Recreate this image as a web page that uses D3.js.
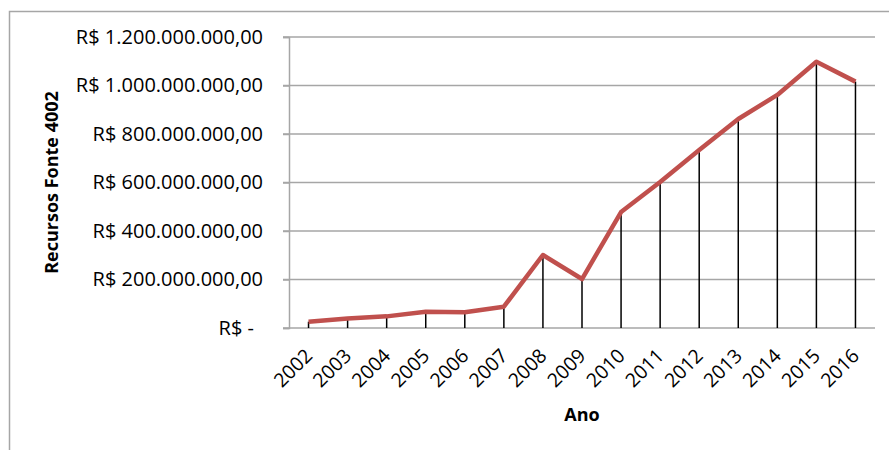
<!DOCTYPE html>
<html>
<head>
<meta charset="utf-8">
<script src="https://cdn.jsdelivr.net/npm/d3@7"></script>
<style>
  body { margin: 0; background: #fff; }
  text { font-family: "Open Sans", sans-serif; fill: #000; }
  .title { font-weight: bold; font-size: 18px; }
</style>
</head>
<body>
<div id="chart"></div>
<script>
// data
var years = ["2002","2003","2004","2005","2006","2007","2008","2009","2010","2011","2012","2013","2014","2015","2016"];
var recursos = [26e6, 39e6, 48e6, 67e6, 65e6, 88e6, 301e6, 202e6, 478e6, 602e6, 734e6, 862e6, 961e6, 1098e6, 1016e6];
var yTicks = [0, 200e6, 400e6, 600e6, 800e6, 1000e6, 1200e6];

var W = 889, H = 450;
var margin = {top: 37, right: 14, bottom: 122, left: 289},
    width = W - margin.left - margin.right,
    height = H - margin.top - margin.bottom;

var svg = d3.select("#chart")
  .append("svg")
    .attr("width", W)
    .attr("height", H);

// chart frame
svg.append("rect")
  .attr("x", 9.5).attr("y", 11.5)
  .attr("width", 900).attr("height", 460)
  .attr("fill", "none")
  .attr("stroke", "#a6a6a6")
  .attr("stroke-width", 1.5);

var g = svg.append("g")
  .attr("transform", "translate(" + margin.left + "," + margin.top + ")");

var br = d3.formatLocale({decimal: ",", thousands: ".", grouping: [3], currency: ["R$ ", ""]});
var fmt = br.format("$,.2f");

var x = d3.scaleBand()
  .domain(years)
  .range([0, width]);

var y = d3.scaleLinear()
  .domain([0, 1200e6])
  .range([height, 0]);

// gridlines
g.append("g")
  .selectAll("line")
  .data(yTicks)
  .enter()
  .append("line")
    .attr("x1", -6)
    .attr("x2", width)
    .attr("y1", function(d) { return y(d); })
    .attr("y2", function(d) { return y(d); })
    .attr("stroke", "#a6a6a6")
    .attr("stroke-width", 1.5);

// y axis
var yAxis = g.append("g")
  .call(d3.axisLeft(y).tickValues(yTicks).tickSize(6).tickPadding(20)
    .tickFormat(function(d) { return d === 0 ? "R$ -" : fmt(d); }));
yAxis.attr("font-size", null).attr("font-family", null);
yAxis.select(".domain").attr("stroke", "#a6a6a6").attr("stroke-width", 1.5);
yAxis.selectAll(".tick line").attr("stroke", "#a6a6a6").attr("stroke-width", 1.5);
yAxis.selectAll("text")
  .style("font-size", "20px")
  .attr("dx", function(d) { return d === 0 ? -9 : 0; });

// x axis labels
g.append("g")
  .selectAll("text")
  .data(years)
  .enter()
  .append("text")
    .attr("text-anchor", "end")
    .style("font-size", "19.5px")
    .attr("transform", function(d) {
      return "translate(" + (x(d) + x.bandwidth() / 2 + 5) + "," + (height + 29) + ")rotate(-45)";
    })
    .text(function(d) { return d; });

// drop lines
g.append("g")
  .selectAll("line")
  .data(years)
  .enter()
  .append("line")
    .attr("x1", function(d) { return x(d) + x.bandwidth() / 2; })
    .attr("x2", function(d) { return x(d) + x.bandwidth() / 2; })
    .attr("y1", function(d, i) { return y(recursos[i]); })
    .attr("y2", height)
    .attr("stroke", "#000")
    .attr("stroke-width", 1.5);

// line
var line = d3.line()
  .x(function(d, i) { return x(years[i]) + x.bandwidth() / 2; })
  .y(function(d) { return y(d); });

g.append("path")
  .datum(recursos)
  .attr("d", line)
  .attr("fill", "none")
  .attr("stroke", "#c0504d")
  .attr("stroke-width", 4.5)
  .attr("stroke-linejoin", "round");

// axis titles
svg.append("text")
  .classed("title", true)
  .attr("text-anchor", "middle")
  .attr("transform", "translate(58," + (margin.top + height / 2) + ")rotate(-90)")
  .text("Recursos Fonte 4002");

svg.append("text")
  .classed("title", true)
  .attr("text-anchor", "middle")
  .attr("x", 582)
  .attr("y", 421)
  .text("Ano");
</script>
</body>
</html>
